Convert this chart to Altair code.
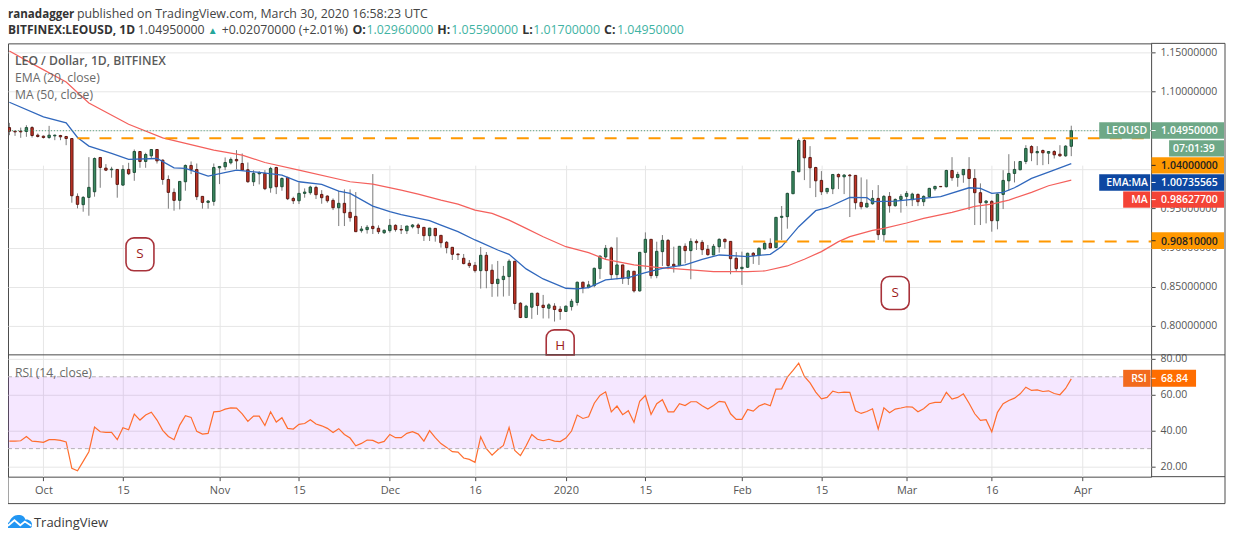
import altair as alt
import pandas as pd

OPEN = [1.0535,1.0489,1.0489,1.0485,1.0535,1.0438,1.0425,1.0408,1.0429,1.0434,
1.0421,1.0395,.9656,.9550,.9643,.9715,1.0153,1.0017,.9996,1.0000,
.9800,1.0000,.9962,1.0229,1.0102,1.0174,1.0255,1.0119,.9872,.9707,
.9605,.9843,1.0051,.9999,.9656,.9579,.9592,1.0021,1.0034,1.0085,
1.0128,1.0076,.9996,.9843,.9945,.9949,.9766,1.0025,.9779,.9898,
.9630,.9600,.9694,.9703,.9771,.9681,.9660,.9605,.9511,.9567,
.9452,.9401,.9218,.9231,.9273,.9248,.9192,.9218,.9286,.9234,
.9217,.9268,.9290,.9260,.9154,.9247,.9158,.9069,.9005,.8920,
.8865,.8801,.8775,.8707,.8903,.8712,.8542,.8593,.8631,.8827,
.8291,.8108,.8240,.8418,.8265,.8227,.8253,.8214,.8185,.8248,
.8300,.8559,.8491,.8516,.8733,.8882,.8997,.8656,.8780,.8610,
.8699,.8448,.8941,.9107,.8644,.8950,.9094,.8788,.8771,.9018,
.8963,.9081,.9069,.8980,.8907,.9013,.9107,.9081,.8865,.8733,
.8750,.8929,.8903,.8984,.9056,.9001,.9388,.9397,.9690,.9970,
1.0370,1.0153,1.0025,.9860,.9715,.9753,.9936,.9906,.9928,.9924,
.9579,.9520,.9562,.9630,.9167,.9656,.9537,.9617,.9656,.9613,
.9681,.9588,.9652,.9753,.9783,.9779,.9987,.9898,.9932,1.0000,
.9885,.9703,.9575,.9592,.9345,.9681,.9855,.9949,.9996,1.0102,
1.0293,1.0213,1.0242,1.0208,1.0229,1.0195,1.0174,1.0296]
HIGH = [1.0595,1.0489,1.0535,1.0565,1.0553,1.0459,1.0434,1.0557,1.0446,1.0442,
1.0429,1.0395,.9694,.9660,1.0157,1.0153,1.0153,1.0068,1.0034,1.0000,
1.0055,1.0085,1.0255,1.0229,1.0213,1.0255,1.0255,1.0128,.9924,.9758,
.9847,1.0064,1.0102,1.0076,.9656,.9609,1.0076,1.0043,1.0153,1.0153,
1.0247,1.0204,1.0089,.9991,.9979,.9991,1.0034,1.0034,.9898,.9906,
.9652,.9830,.9758,.9792,.9792,.9736,.9669,.9630,.9728,.9745,
.9745,.9711,.9277,.9290,.9941,.9286,.9235,.9367,.9299,.9290,
.9277,.9303,.9311,.9260,.9251,.9247,.9158,.9086,.9005,.8920,
.8920,.8843,.8818,.9009,.8945,.8788,.8831,.8767,.8852,.8831,
.8304,.8270,.8418,.8427,.8397,.8291,.8291,.8253,.8261,.8346,
.8567,.8567,.8576,.8746,.8894,.9035,.9013,.9133,.8780,.8716,
.8699,.8945,.9196,.9107,.9077,.9162,.9111,.9013,.9022,.9056,
.9120,.9107,.9099,.9035,.9048,.9120,.9120,.9081,.8945,.8950,
.8937,.8945,.9005,.9077,.9120,.9388,.9533,.9703,.9979,1.0395,
1.0395,1.0298,1.0034,.9979,.9758,.9941,.9949,.9941,.9941,.9928,
.9898,.9873,.9736,.9800,.9673,.9711,.9630,.9685,.9724,.9703,
.9694,.9669,.9766,.9792,.9787,.9996,1.0157,.9970,1.0004,1.0157,
1.0004,.9822,.9609,.9609,.9694,.9991,1.0195,1.0106,1.0106,1.0310,
1.0310,1.0298,1.0255,1.0229,1.0247,1.0310,1.0310,1.0559]
LOW = [1.0438,1.0429,1.0404,1.0417,1.0408,1.0408,1.0395,1.0391,1.0374,1.0374,
1.0310,.9575,.9503,.9460,.9409,.9652,.9766,.9979,.9894,.9639,
.9792,.9928,.9855,1.0021,1.0021,1.0140,1.0076,.9805,.9499,.9473,
.9490,.9728,.9941,.9609,.9499,.9499,.9537,.9813,.9991,1.0064,
1.0004,.9983,.9830,.9788,.9809,.9736,.9703,.9685,.9728,.9609,
.9558,.9558,.9639,.9677,.9622,.9562,.9575,.9481,.9277,.9277,
.9333,.9201,.9192,.9180,.9175,.9175,.9175,.9192,.9205,.9175,
.9175,.9247,.9175,.9086,.9086,.9077,.9001,.8928,.8843,.8843,
.8788,.8741,.8682,.8478,.8482,.8372,.8376,.8376,.8385,.8206,
.8100,.8100,.8091,.8142,.8096,.8096,.8057,.8079,.8185,.8197,
.8261,.8418,.8482,.8495,.8601,.8843,.8601,.8597,.8537,.8525,
.8427,.8440,.8725,.8606,.8610,.8767,.8725,.8682,.8767,.8801,
.8597,.8971,.8907,.8899,.8907,.8937,.8988,.8661,.8695,.8525,
.8742,.8793,.8780,.8979,.8992,.8997,.9099,.9243,.9685,.9970,
.9864,.9762,.9647,.9673,.9685,.9685,.9749,.9685,.9392,.9490,
.9490,.9515,.9549,.9099,.9078,.9448,.9524,.9448,.9532,.9532,
.9532,.9532,.9643,.9728,.9775,.9771,.9855,.9779,.9830,.9482,
.9290,.9290,.9311,.9205,.9235,.9494,.9728,.9834,.9991,1.0068,
1.0106,1.0055,1.0055,1.0068,1.0140,1.0162,1.0162,1.0170]
CLOSE = [1.0489,1.0480,1.0480,1.0535,1.0434,1.0421,1.0408,1.0438,1.0438,1.0417,
1.0395,.9664,.9554,.9643,.9771,1.0140,1.0025,.9991,1.0004,.9809,
1.0000,.9945,1.0229,1.0102,1.0191,1.0255,1.0110,.9872,.9707,.9605,
.9847,1.0051,.9999,.9652,.9579,.9596,1.0025,1.0038,1.0089,1.0128,
1.0110,.9991,.9843,.9949,.9958,.9754,1.0013,.9779,.9885,.9626,
.9600,.9694,.9711,.9775,.9677,.9639,.9600,.9511,.9567,.9447,
.9384,.9205,.9239,.9261,.9244,.9205,.9222,.9286,.9231,.9226,
.9277,.9290,.9256,.9154,.9251,.9154,.9064,.9001,.8916,.8911,
.8797,.8771,.8707,.8903,.8707,.8542,.8597,.8635,.8827,.8287,
.8108,.8253,.8418,.8261,.8236,.8270,.8210,.8185,.8253,.8316,
.8559,.8491,.8525,.8737,.8894,.8992,.8656,.8780,.8606,.8703,
.8448,.8941,.9107,.8644,.8954,.9094,.8771,.8767,.9018,.8963,
.9081,.9064,.8975,.8911,.9018,.9107,.9077,.8860,.8733,.8750,
.8929,.8899,.8992,.9056,.8997,.9388,.9401,.9694,.9975,1.0370,
1.0149,1.0021,.9855,.9715,.9758,.9936,.9906,.9928,.9919,.9575,
.9524,.9567,.9630,.9167,.9656,.9537,.9617,.9656,.9694,.9685,
.9588,.9656,.9758,.9783,.9779,.9987,.9894,.9936,1.0000,.9885,
.9703,.9575,.9596,.9345,.9685,.9860,.9949,1.0000,1.0102,1.0268,
1.0213,1.0229,1.0213,1.0229,1.0187,1.0174,1.0298,1.0495]
RSI = [34.2,34.2,34.4,36.8,34.2,33.9,33.5,35.0,35.0,34.6,
33.7,19.0,17.7,22.9,28.3,42.0,39.4,39.0,39.0,35.0,
41.6,40.5,49.2,45.9,48.7,50.3,45.9,40.2,36.8,35.0,
43.1,48.3,47.4,39.6,38.1,38.5,50.5,50.7,52.0,52.7,
52.6,49.4,45.2,48.1,48.1,42.9,50.5,44.8,47.2,41.3,
40.9,43.5,44.0,46.1,43.7,42.7,41.3,39.0,41.1,37.9,
35.9,31.6,32.9,34.8,34.6,33.1,34.0,37.9,36.1,36.1,
38.5,39.4,38.1,34.2,40.0,36.1,32.8,30.7,28.3,28.1,
24.8,24.0,22.4,36.6,30.0,26.4,29.4,31.8,41.8,29.0,
26.1,31.6,37.9,35.2,34.4,35.2,34.2,33.9,35.9,39.8,
48.7,46.8,47.7,55.3,59.6,61.6,50.5,53.7,48.9,51.1,
44.6,56.4,59.6,49.0,55.0,57.2,50.5,50.5,55.0,54.0,
56.1,56.1,53.9,52.0,54.0,56.3,55.9,49.4,46.3,46.3,
51.8,50.9,53.7,55.0,53.9,63.1,63.3,69.8,73.5,77.6,
70.2,66.6,61.5,57.7,58.5,62.0,61.1,61.5,61.3,51.1,
49.6,50.7,52.2,40.9,52.7,50.0,52.0,52.6,53.3,53.1,
50.5,52.2,55.0,55.7,55.7,61.3,57.6,58.5,60.5,55.3,
49.4,45.7,46.1,39.4,50.2,55.0,56.8,58.1,60.5,64.2,
62.4,62.7,61.8,62.2,60.7,60.0,63.5,68.84]
EMA_DAY = [-6,0,4,6,8,12,15,20,23,25,29,34,38,42,45,49,52,54,58,61,63,68,70,73,76,77,80,82,85,88,92,94,96,99,103,106,109,113,116,119,122,124,128,130,133,136,138,142,145,146,150,153,158,163,165,167,169,171,174,177,181]
EMA = [1.0859,1.0672,1.0595,1.0408,1.0298,1.0204,1.0128,1.0140,1.0021,1.0013,.9915,.9992,.9962,.9928,.9843,.9809,.9724,.9694,.9532,.9460,.9422,.9345,.9290,.9205,.9099,.9069,.8971,.8916,.8729,.8601,.8482,.8474,.8491,.8589,.8618,.8682,.8737,.8780,.8852,.8907,.8895,.8886,.8916,.9014,.9269,.9473,.9511,.9643,.9639,.9588,.9596,.9617,.9652,.9766,.9758,.9694,.9707,.9766,.9885,.9966,1.0074]
MA_DAY = [-6,-2,4,8,15,21,30,35,39,45,54,58,63,66,70,73,76,79,82,85,88,92,96,99,104,108,114,118,124,127,131,134,137,140,142,146,148,152,155,160,164,167,170,174,177,181]
MA = [1.1513,1.1352,1.1118,1.0850,1.0578,1.0404,1.0247,1.0183,1.0089,.9992,.9843,.9813,.9736,.9685,.9608,.9557,.9481,.9438,.9353,.9247,.9141,.9013,.8937,.8852,.8780,.8750,.8716,.8695,.8695,.8703,.8767,.8853,.8950,.9078,.9142,.9222,.9248,.9316,.9375,.9452,.9528,.9558,.9609,.9707,.9792,.9864]
PRICE_TICKS = [1.15,1.10,1.05,1.00,0.95,0.90,0.85,0.80]
RSI_TICKS = [20,40,60,80]
DATE_TICKS = ["2019-10-01","2019-10-15","2019-11-01","2019-11-15","2019-12-01","2019-12-16","2020-01-01","2020-01-15","2020-02-01","2020-02-15","2020-03-01","2020-03-16","2020-04-01"]
LEVELS = [("2019-10-07",1.04),("2020-02-03",0.9081)]
# letter, centre day (days from 1 Oct 2019), top and bottom price of the badge, corner rounding of the bottom, price of the letter
BADGES = [("S",17,0.9126,0.8705,8,0.8916),("S",150,0.8632,0.8211,8,0.8422),("H",91,0.7950,0.7631,0,0.7740)]

FONT = "Open Sans"
GREY = "#555555"
FRAME = "#4a4a4a"
GRID = "#e6e6e6"
UP, UP_EDGE = "#3a8a60", "#1f4f38"
DOWN, DOWN_EDGE = "#c43325", "#5c1a14"

BASE = pd.Timestamp("2019-10-01")
def iso(days):
    return (BASE + pd.Timedelta(days=days)).strftime("%Y-%m-%dT%H:%M:%SZ")
def ms(ts):
    return int(pd.Timestamp(ts).timestamp() * 1000)

candles = pd.DataFrame({"date":[iso(i-6) for i in range(len(OPEN))],"open":OPEN,"high":HIGH,"low":LOW,"close":CLOSE,"rsi":RSI})
ema = pd.DataFrame({"date":[iso(d) for d in EMA_DAY],"v":EMA})
ma = pd.DataFrame({"date":[iso(d) for d in MA_DAY],"v":MA})

X_DOM = [ms(iso(-6.24)), ms(iso(195.06))]
xscale = alt.Scale(type="utc", domain=X_DOM, padding=0)
H1, H = 312, 434
yscale = alt.Scale(domain=[0.7631,1.1611], zero=False, nice=False, range=[H1,0])
rscale = alt.Scale(domain=[14.4,82.2], zero=False, nice=False, range=[H,H1])
tick_ms = [ms(t+"T00:00:00Z") for t in DATE_TICKS]

W = 1145
OX, OY = 8, 43

xenc = alt.X("date:T", scale=xscale, title=None,
             axis=alt.Axis(values=tick_ms, grid=True, gridColor=GRID, domain=False, tickSize=4, tickColor=FRAME,
                           labelColor=GREY, labelFont=FONT, labelFontSize=11, labelPadding=4, labelOverlap=False, labelFlush=False,
                           labelExpr="utcdate(datum.value)==1 ? (utcmonth(datum.value)==0 ? '2020' : utcFormat(datum.value,'%b')) : utcFormat(datum.value,'%-d')"))
ytop = alt.Y("p:Q", scale=yscale, title=None,
             axis=alt.Axis(orient="right", values=PRICE_TICKS, grid=True, gridColor=GRID, domain=False,
                           tickSize=4, tickColor=FRAME, labelColor=GREY, labelFont=FONT, labelFontSize=10.5, labelPadding=5,
                           labelExpr="(datum.value==1.05||datum.value==1) ? '' : format(datum.value,'.8f')"))
ybot = alt.Y("rsi:Q", scale=rscale, title=None,
             axis=alt.Axis(orient="right", values=RSI_TICKS, format=".2f", grid=True, gridColor=GRID, domain=False,
                           tickSize=4, tickColor=FRAME, labelColor=GREY, labelFont=FONT, labelFontSize=10.5, labelPadding=5))

one = pd.DataFrame({"a":[0]})

def txt(t, x, y, size=12.4, color=GREY, weight="normal", align="left"):
    return alt.Chart(pd.DataFrame({"t":[t]})).mark_text(align=align, baseline="alphabetic", font=FONT, fontSize=size,
        color=color, fontWeight=weight).encode(x=alt.value(x-OX), y=alt.value(y-OY), text="t:N")

def rule(x1, y1, x2, y2, color=FRAME, width=1):
    enc = dict(x=alt.value(x1-OX), y=alt.value(y1-OY))
    if x2 != x1:
        enc["x2"] = alt.value(x2-OX)
    if y2 != y1:
        enc["y2"] = alt.value(y2-OY)
    return alt.Chart(one).mark_rule(color=color, strokeWidth=width).encode(**enc)

def tag(x1, x2, y1, y2, color):
    return rule(x1, (y1+y2)/2, x2, (y1+y2)/2, color, y2-y1)

layers = []
layers.append(alt.Chart(candles).transform_calculate(p="datum.high").mark_rule(color="#7a7a7a", strokeWidth=1)
              .encode(x=xenc, y=ytop, y2="low:Q"))
layers.append(alt.Chart(candles).transform_calculate(p="datum.open").mark_bar(size=2.4, strokeWidth=1)
              .encode(x=xenc, y=ytop, y2="close:Q",
                      fill=alt.condition("datum.close >= datum.open", alt.value(UP), alt.value(DOWN)),
                      stroke=alt.condition("datum.close >= datum.open", alt.value(UP_EDGE), alt.value(DOWN_EDGE))))
layers.append(alt.Chart(ma).transform_calculate(p="datum.v").mark_line(color="#f4605c", strokeWidth=1.2, clip=True).encode(x=xenc, y=ytop))
layers.append(alt.Chart(ema).transform_calculate(p="datum.v").mark_line(color="#3168bd", strokeWidth=1.3, clip=True).encode(x=xenc, y=ytop))
layers.append(alt.Chart(pd.DataFrame({"p":[1.0495]})).mark_rule(color="#4f9e78", strokeWidth=1, strokeDash=[1,2]).encode(y=ytop))
for start, lvl in LEVELS:
    d = pd.DataFrame({"date":[start+"T00:00:00Z"],"end":[X_DOM[1]],"p":[lvl]})
    layers.append(alt.Chart(d).mark_rule(color="#ff9800", strokeWidth=2, strokeDash=[12,10]).encode(x=xenc, x2="end:T", y=ytop))
for letter, day, p_top, p_bot, round_bot, p_text in BADGES:
    box = pd.DataFrame({"date":[iso(day-2.46)],"end":[iso(day+2.46)],"p":[p_top],"q":[p_bot]})
    lab = pd.DataFrame({"date":[iso(day)],"p":[p_text],"t":[letter]})
    layers.append(alt.Chart(box).mark_rect(cornerRadiusTopLeft=8, cornerRadiusTopRight=8, cornerRadiusBottomLeft=round_bot, cornerRadiusBottomRight=round_bot,
                                           fill="white", stroke="#a8323a", strokeWidth=1.6).encode(x=xenc, x2="end:T", y=ytop, y2="q:Q"))
    layers.append(alt.Chart(lab).mark_text(font=FONT, fontSize=13.5, color="#9c1c20", baseline="middle").encode(x=xenc, y=ytop, text="t:N"))

# legend texts
layers += [txt("LEO / Dollar, 1D, BITFINEX", 15, 65, 12.2, "#5a5a5a", 600),
           txt("EMA (20, close)", 15, 82, 12.2, "#6a6a6a"),
           txt("MA (50, close)", 15, 99, 12.2, "#6a6a6a")]
# header
layers += [txt("ranadagger", 8, 18, 11.6, "#333333", "bold"),
           txt("published on TradingView.com, March 30, 2020 16:58:23 UTC", 77, 18, 12.4, "#444444"),
           txt("BITFINEX:LEOUSD, 1D", 8, 34, 12, "#333333", "bold"),
           txt("1.04950000", 138, 34, 12.4, "#444444"),
           txt("\u25b2", 208, 34, 10, "#26a69a"),
           txt("+0.02070000 (+2.01%)", 222, 34, 12.4, "#444444")]
for lab_, lx, val, vx in [("O:",353,"1.02960000",367),("H:",438,"1.05590000",452),("L:",523,"1.01700000",534),("C:",605,"1.04950000",618)]:
    layers += [txt(lab_, lx, 34, 12.4, "#333333", "bold"), txt(val, vx, 34, 12.4, "#3fb3a3")]

low = []
low.append(alt.Chart(pd.DataFrame({"rsi":[30],"b":[70]})).mark_rect(fill="#9915ff", opacity=0.1).encode(y=ybot, y2="b:Q"))
low.append(alt.Chart(candles).mark_line(color="#ff6d2e", strokeWidth=1.2).encode(x=xenc, y=ybot))
for lv in [30,70]:
    low.append(alt.Chart(pd.DataFrame({"rsi":[lv]})).mark_rule(color="#b5b0b5", strokeWidth=1, strokeDash=[4,3]).encode(y=ybot))
low.append(txt("RSI (14, close)", 15, 377, 12.2, "#6a6a6a"))

# price tags
TAG_GREEN, TAG_ORANGE, TAG_BLUE, TAG_RED = "#6ea887", "#ff9800", "#0d47a1", "#f44336"
for x1,x2,y1,y2,col in [(1101,1152,122,138.6,TAG_GREEN),(1153.5,1226,122,138.6,TAG_GREEN),(1171,1226,140,156.4,TAG_GREEN),
                        (1153.5,1226,157,173.4,TAG_ORANGE),(1101,1152,174,190.6,TAG_BLUE),(1153.5,1226,174,190.6,TAG_BLUE),
                        (1125,1152,191.3,207.6,TAG_RED),(1153.5,1226,191.3,207.6,TAG_RED),(1153.5,1226,232.3,249,TAG_ORANGE),
                        (1125,1152.5,370,387,"#f26a1e"),(1153.5,1198,370,387,"#ff6d00")]:
    low.append(tag(x1,x2,y1,y2,col))
for yc,col in [(130.3,"white"),(165.2,"#222222"),(182.3,"white"),(199.5,"white"),(240.7,"#222222"),(378.5,"white")]:
    low.append(rule(1153.5,yc,1157.5,yc,col))
for t,x,y,col in [("LEOUSD",1108,134,"white"),("1.04950000",1163,134,"white"),("07:01:39",1175,152,"white"),
                  ("1.04000000",1163,169,"#222222"),("EMA:MA",1108,186,"white"),("1.00735565",1163,186,"white"),
                  ("MA",1133,203,"white"),("0.98627700",1163,203,"white"),("0.90810000",1163,244.5,"#222222"),
                  ("RSI",1133,382.5,"white"),("68.84",1163,382.5,"white")]:
    low.append(txt(t,x,y,10.5,col,600))
# frame
low += [rule(1153,43,1227,43), rule(1227,43,1227,504), rule(8,355,1227,355), rule(1153,477,1227,477), rule(8,504,1227,504), rule(8,477,8,504)]
# logo
CLOUD = "M-0.85,0.5 C-1.05,0.45 -1.05,0.1 -0.75,0.05 C-0.65,-0.25 -0.35,-0.55 0,-0.5 C0.25,-0.55 0.45,-0.35 0.5,-0.15 C0.8,-0.2 1.05,0.05 1,0.3 C1,0.45 0.9,0.5 0.8,0.5 Z"
WAVE = "M-0.85,0.32 L-0.35,-0.1 L0.1,0.28 L0.45,0 L0.95,0.32"
low.append(alt.Chart(one).mark_point(shape=CLOUD, size=676, filled=True, fill="#2196f3", opacity=1, strokeWidth=0).encode(x=alt.value(19-OX), y=alt.value(522-OY)))
low.append(alt.Chart(one).mark_point(shape=WAVE, size=676, filled=False, stroke="white", opacity=1, strokeWidth=1.8).encode(x=alt.value(19-OX), y=alt.value(522-OY)))
low.append(txt("TradingView", 34, 527, 13, "#3a3a3a"))

chart = alt.layer(alt.layer(*layers), alt.layer(*low)).resolve_scale(y="independent").properties(
    width=W, height=H, autosize=alt.AutoSizeParams(type="none"),
    padding={"left":0,"top":35,"right":75,"bottom":53}).configure_view(stroke=FRAME, strokeWidth=1)
chart.save("out.html", embed_options={"renderer": "svg", "actions": False})
